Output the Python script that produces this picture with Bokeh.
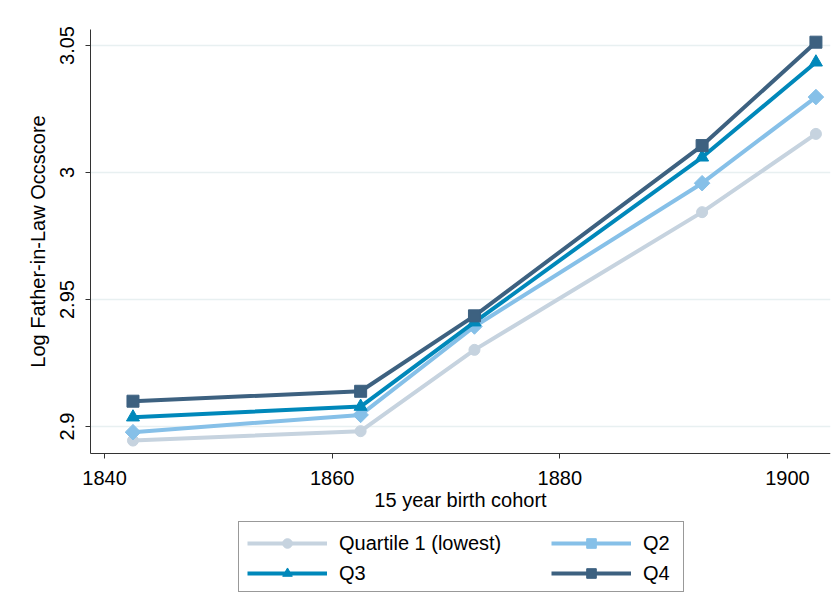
import math
from bokeh.plotting import figure
from bokeh.models import Legend, LegendItem, FixedTicker
from bokeh.embed import file_html
from bokeh.resources import INLINE

cohort = [1842.5, 1862.5, 1872.5, 1892.5, 1902.5]
q1 = [2.8945, 2.8982, 2.9302, 2.9844, 3.0152]
q2 = [2.8978, 2.9046, 2.9394, 2.9958, 3.0297]
q3 = [2.9037, 2.9079, 2.9411, 3.0060, 3.0434]
q4 = [2.9100, 2.9139, 2.9436, 3.0106, 3.0513]
labels = ["Quartile 1 (lowest)", "Q2", "Q3", "Q4"]
x_ticks = [1840, 1860, 1880, 1900]
y_ticks = [2.9, 2.95, 3.0, 3.05]
y_tick_labels = {2.9: "2.9", 2.95: "2.95", 3.0: "3", 3.05: "3.05"}

FONT = "Liberation Sans"
FS = "20px"

X_AXIS_LOW, X_AXIS_HIGH = 1838.77, 1903.78
Y_AXIS_LOW, Y_AXIS_HIGH = 2.8894, 3.0563
X_FRAME_LOW = 1831.74   # room left of the y axis for its labels
Y_FRAME_LOW = 2.8288    # room below the x axis for the legend
Y_FRAME_HIGH = 3.0618   # room above the y axis for its top label

p = figure(width=839, height=615, output_backend="svg", toolbar_location=None,
           x_range=(X_FRAME_LOW, X_AXIS_HIGH), y_range=(Y_FRAME_LOW, Y_FRAME_HIGH),
           min_border_left=10, min_border_right=9, min_border_top=15,
           min_border_bottom=8)
p.outline_line_color = None
p.background_fill_color = "white"
p.border_fill_color = "white"

series = [
    (q1, "#c6d3df", "circle", 11, 0.0),
    (q2, "#86c0e8", "square", 11, math.pi / 4),
    (q3, "#0088ba", "triangle", 13, 0.0),
    (q4, "#3d6180", "square", 12, 0.0),
]
items = []
for (vals, col, mk, sz, ang), lab in zip(series, labels):
    r1 = p.line(cohort, vals, line_color=col, line_width=4)
    r2 = p.scatter(cohort, vals, marker=mk, size=sz, angle=ang,
                   fill_color=col, line_color=col)
    items.append(LegendItem(label=lab, renderers=[r1, r2]))

p.xaxis.ticker = FixedTicker(ticks=x_ticks)
p.xaxis.fixed_location = Y_AXIS_LOW
p.xaxis.bounds = (X_AXIS_LOW, X_AXIS_HIGH)
p.yaxis.ticker = FixedTicker(ticks=y_ticks)
p.yaxis.fixed_location = X_AXIS_LOW
p.yaxis.bounds = (Y_AXIS_LOW, Y_AXIS_HIGH)
p.yaxis.major_label_overrides = y_tick_labels
p.yaxis.major_label_orientation = "vertical"
p.xaxis.axis_label = "15 year birth cohort"
p.yaxis.axis_label = "Log Father-in-Law Occscore"
for ax in (p.xaxis, p.yaxis):
    ax.axis_label_text_font = FONT
    ax.axis_label_text_font_style = "normal"
    ax.axis_label_text_font_size = FS
    ax.axis_label_text_color = "black"
    ax.major_label_text_font = FONT
    ax.major_label_text_font_size = FS
    ax.major_label_text_color = "black"
    ax.axis_line_color = "#333333"
    ax.major_tick_line_color = "#333333"
    ax.major_tick_out = 5
    ax.major_tick_in = 0
    ax.minor_tick_line_color = None
p.xaxis.major_label_standoff = 12
p.xaxis.axis_label_standoff = 1
p.yaxis.major_label_standoff = 12
p.yaxis.axis_label_standoff = 8

p.xgrid.grid_line_color = None
p.ygrid.grid_line_color = "#e8f0f1"
p.ygrid.grid_line_width = 1.5
for g in p.ygrid:
    if "cross_bounds" in g.properties():
        g.cross_bounds = (X_AXIS_LOW, X_AXIS_HIGH)

# legend frame (drawn first, behind the two item columns)
dummy = p.scatter(x=[], y=[], alpha=0)
frame_leg = Legend(items=[LegendItem(label=" ", renderers=[dummy])],
                   location=(228, 15), padding=0, margin=0,
                   glyph_width=20, glyph_height=69, label_standoff=0,
                   label_width=424, label_height=20,
                   border_line_color="#333333", border_line_width=1,
                   background_fill_color="white", background_fill_alpha=1.0)
p.add_layout(frame_leg, "center")

def make_leg(its, loc):
    lg = Legend(items=its, location=loc, orientation="vertical",
                padding=0, margin=0, spacing=6,
                glyph_width=80, glyph_height=24, label_height=24,
                label_standoff=12,
                border_line_color=None, background_fill_alpha=0.0)
    lg.label_text_font = FONT
    lg.label_text_font_size = FS
    lg.label_text_color = "black"
    return lg

p.add_layout(make_leg([items[0], items[2]], (237, 22)), "center")
p.add_layout(make_leg([items[1], items[3]], (541, 22)), "center")

open("out.html", "w").write(file_html(p, INLINE))
